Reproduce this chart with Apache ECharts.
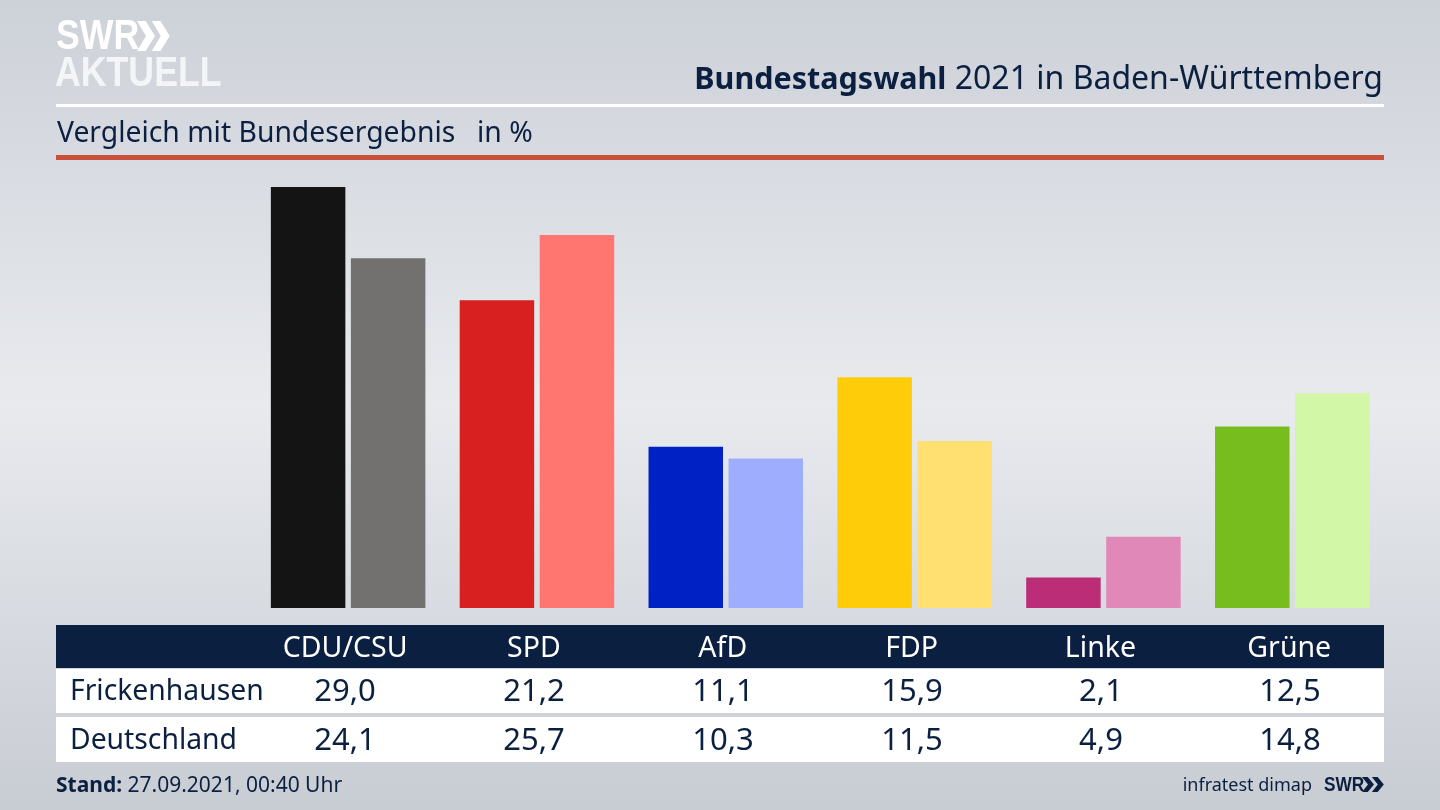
<!DOCTYPE html>
<html>
<head>
<meta charset="utf-8">
<title>Bundestagswahl 2021 in Baden-Württemberg</title>
<script src="https://cdn.jsdelivr.net/npm/echarts@6/dist/echarts.min.js"></script>
<style>
  html, body { margin: 0; padding: 0; }
  #chart { width: 1440px; height: 810px; }
</style>
</head>
<body>
<div id="chart"></div>
<script>
const parties = ['CDU/CSU', 'SPD', 'AfD', 'FDP', 'Linke', 'Grüne'];
const rowNames = ['Frickenhausen', 'Deutschland'];
const frickenhausen = [29.0, 21.2, 11.1, 15.9, 2.1, 12.5];
const deutschland = [24.1, 25.7, 10.3, 11.5, 4.9, 14.8];
const localColors = ['#141414', '#d7201f', '#0021c4', '#ffcc0a', '#bc2d78', '#78bd1e'];
const nationalColors = ['#72716f', '#ff7570', '#9fadff', '#ffe070', '#e088b8', '#d2f7a6'];

const font = '"Noto Sans", sans-serif';
const navy = '#0b2040';
const logoFont = '"Liberation Sans", sans-serif';

// table columns sit 3px left of the bar groups in the original
const colX = i => 345 + i * 189;
const fmt = v => v.toFixed(1).replace('.', ',');

function rect(x, y, width, height, fill) {
  return { type: 'rect', z: -10, shape: { x, y, width, height }, style: { fill } };
}

function label(text, x, y, size, fill, align, extra) {
  return {
    type: 'text', z: 5,
    style: Object.assign({
      text, x, y, fill,
      font: size + 'px ' + font,
      textAlign: align || 'left',
      textVerticalAlign: 'middle'
    }, extra || {})
  };
}

// no condensed face installed, so the wordmarks are squeezed horizontally
function logoText(text, x, y, size, fill, scaleX) {
  return {
    type: 'text', z: 5, x, y, scaleX,
    style: { text, x: 0, y: 0, fill, font: 'bold ' + size + 'px ' + logoFont, textAlign: 'left', textVerticalAlign: 'middle' }
  };
}

function chevrons(x, y, w, h, fill) {
  // double arrow next to the SWR wordmark
  const one = dx => ({
    type: 'polygon', z: 5,
    shape: { points: [[x + dx, y], [x + dx + w * 0.48, y], [x + dx + w, y + h / 2], [x + dx + w * 0.48, y + h], [x + dx, y + h], [x + dx + w * 0.5, y + h / 2]] },
    style: { fill }
  });
  return [one(0), one(w * 0.82)];
}

const graphics = [
  rect(56, 104, 1328, 3, '#ffffff'),
  rect(56, 155, 1328, 5, '#c8503c'),
  rect(56, 625, 1328, 43, navy),
  rect(56, 669, 1328, 44, '#ffffff'),
  rect(56, 717, 1328, 45, '#ffffff'),
  logoText('SWR', 56, 37, 42, '#ffffff', 0.85),
  logoText('AKTUELL', 55, 74, 42, '#f4f5f7', 0.85),
  label('{b|Bundestagswahl} 2021 in Baden-Württemberg', 1383, 80, 32, navy, 'right', {
    rich: { b: { font: 'bold 30.5px ' + font, fill: navy } }
  }),
  label('Vergleich mit Bundesergebnis', 57, 134, 28.3, navy),
  label('in %', 477, 134, 28.3, navy),
  label(rowNames[0], 70, 692, 28.3, navy),
  label(rowNames[1], 70, 741, 28.3, navy),
  label('{b|Stand:} 27.09.2021, 00:40 Uhr', 56, 786, 21, navy, 'left', {
    rich: { b: { font: 'bold 21px ' + font, fill: navy } }
  }),
  label('infratest dimap', 1312, 786, 18, navy, 'right'),
  logoText('SWR', 1324, 785, 21, navy, 0.82)
];
graphics.push(...chevrons(137, 21, 18, 30, '#ffffff'));
graphics.push(...chevrons(1362, 777, 12, 15, navy));
parties.forEach((p, i) => {
  graphics.push(label(fmt(frickenhausen[i]), colX(i), 692.5, 31, navy, 'center'));
  graphics.push(label(fmt(deutschland[i]), colX(i), 741.5, 31, navy, 'center'));
});

const chart = echarts.init(document.getElementById('chart'));
chart.setOption({
  animation: false,
  backgroundColor: new echarts.graphic.LinearGradient(0, 0, 0, 1, [
    { offset: 0, color: '#cdd1d8' },
    { offset: 0.5, color: '#e8eaee' },
    { offset: 1, color: '#c8ccd3' }
  ]),
  grid: { left: 253.7, top: 187, width: 1133, height: 421 },
  xAxis: {
    type: 'category',
    data: parties,
    axisLine: { show: false },
    axisTick: { show: false },
    axisLabel: {
      interval: 0,
      margin: 26,
      color: '#ffffff',
      fontFamily: font,
      fontSize: 28.5,
      padding: [0, 6, 0, 0]
    }
  },
  yAxis: { type: 'value', min: 0, max: 29, show: false },
  series: [
    {
      name: rowNames[0], type: 'bar', barWidth: 74.5, barGap: '7.4%',
      data: frickenhausen.map((v, i) => ({ value: v, itemStyle: { color: localColors[i] } }))
    },
    {
      name: rowNames[1], type: 'bar', barWidth: 74.5,
      data: deutschland.map((v, i) => ({ value: v, itemStyle: { color: nationalColors[i] } }))
    }
  ],
  graphic: { elements: graphics }
});
</script>
</body>
</html>
